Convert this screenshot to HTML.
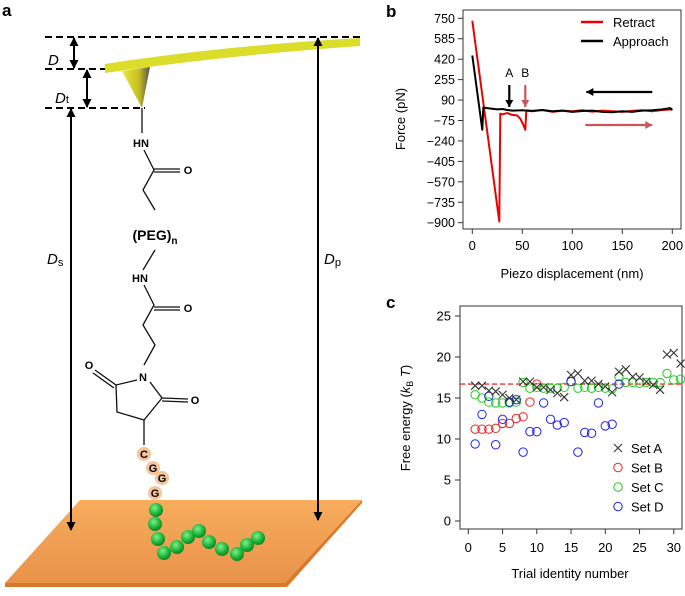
<!DOCTYPE html>
<html><head><meta charset="utf-8"><style>
body{margin:0;background:#fff;font-family:"Liberation Sans",sans-serif}
svg text{font-family:"Liberation Sans",sans-serif}
</style></head><body>
<svg id="fig" width="685" height="591" viewBox="0 0 685 591" xmlns="http://www.w3.org/2000/svg">
<defs>
<marker id="ah" markerWidth="9" markerHeight="9" refX="8" refY="4.5" orient="auto-start-reverse" markerUnits="userSpaceOnUse"><path d="M0,0 L9,4.5 L0,9 Z" fill="#000"/></marker>
<radialGradient id="ball" cx="0.4" cy="0.35" r="0.7"><stop offset="0" stop-color="#7ef08a"/><stop offset="0.6" stop-color="#1cb53a"/><stop offset="1" stop-color="#0a7a22"/></radialGradient>
<linearGradient id="plate" x1="0" y1="0" x2="0" y2="1"><stop offset="0" stop-color="#f8ad5c"/><stop offset="1" stop-color="#e8924a"/></linearGradient>
<linearGradient id="tipg" x1="0" y1="0" x2="1" y2="0"><stop offset="0" stop-color="#e8e640"/><stop offset="0.6" stop-color="#c8c020"/><stop offset="1" stop-color="#555"/></linearGradient>
</defs>

<!-- Panel a -->
<g>
<text x="2" y="16" font-size="17" font-weight="bold">a</text>
<path d="M80,500 L362,500 L285,583 L5,583 Z" fill="url(#plate)"/>
<path d="M5,583 L285,583 L362,500 L362,503 L287,587 L5,587 Z" fill="#d97a2a"/>
<g stroke="#000" stroke-width="2" stroke-dasharray="7,4">
<line x1="45" y1="37" x2="360" y2="37"/><line x1="45" y1="69" x2="105" y2="69"/><line x1="45" y1="108" x2="145" y2="108"/>
</g>
<path d="M105,64 Q220,46 360,38 L360,46 Q220,56 105,73 Z" fill="#dcdc2a"/>
<path d="M122,71 L150,67 L142,108 Z" fill="url(#tipg)"/>
<g stroke="#000" stroke-width="2" fill="none">
<line x1="74" y1="38" x2="74" y2="68" marker-start="url(#ah)" marker-end="url(#ah)"/>
<line x1="87" y1="70" x2="87" y2="107" marker-start="url(#ah)" marker-end="url(#ah)"/>
<line x1="71" y1="109" x2="71" y2="530" marker-start="url(#ah)" marker-end="url(#ah)"/>
<line x1="318" y1="38" x2="318" y2="520" marker-start="url(#ah)" marker-end="url(#ah)"/>
</g>
<text x="48" y="65" font-size="15" font-style="italic">D</text>
<text x="55" y="103" font-size="15"><tspan font-style="italic">D</tspan><tspan font-size="11">t</tspan></text>
<text x="47" y="264" font-size="15"><tspan font-style="italic">D</tspan><tspan font-size="11" dy="2">s</tspan></text>
<text x="324" y="264" font-size="15"><tspan font-style="italic">D</tspan><tspan font-size="11" dy="2">p</tspan></text>
<g stroke="#111" stroke-width="1.3" fill="none">
<path d="M142,108 L142,133"/><path d="M144,150 L154,170 L143,190 L155,210"/>
<path d="M154,169 L180,169 M154,172 L180,172"/>
<path d="M155,250 L143,270"/><path d="M144,285 L154,305 L143,325 L155,345 L144,365"/>
<path d="M154,307 L180,307 M154,310 L180,310"/>
<path d="M137,380 L116,385 L117,412 L144,420 L162,398 L150,382"/>
<path d="M116,385 L95,370 M114,388 L93,373"/>
<path d="M162,398 L188,399 M162,401 L188,402"/>
<path d="M144,420 L144,445"/>
</g>
<g font-size="11" font-weight="bold" text-anchor="middle">
<text x="141" y="147">HN</text><text x="188" y="174">O</text>
<text x="140" y="282">HN</text><text x="188" y="312">O</text>
<text x="143" y="381">N</text><text x="89" y="369">O</text><text x="195" y="404">O</text>
</g>
<text x="155" y="240" font-size="14" font-weight="bold" text-anchor="middle">(PEG)<tspan font-size="10" dy="4">n</tspan></text>
<g font-size="11" font-weight="bold" text-anchor="middle">
<circle cx="144" cy="454" r="7" fill="#f6c39a"/><circle cx="153" cy="468" r="7" fill="#f6c39a"/><circle cx="162" cy="478" r="7" fill="#f6c39a"/><circle cx="155" cy="493" r="7" fill="#f6c39a"/>
<text x="144" y="458">C</text><text x="153" y="472">G</text><text x="162" y="482">G</text><text x="155" y="497">G</text>
</g>
<g fill="url(#ball)">
<circle cx="156" cy="510" r="7"/><circle cx="155" cy="524" r="7"/><circle cx="158" cy="539" r="7"/><circle cx="164" cy="553" r="7"/><circle cx="177" cy="547" r="7"/><circle cx="188" cy="537" r="7"/><circle cx="199" cy="531" r="7"/><circle cx="209" cy="542" r="7"/><circle cx="222" cy="549" r="7"/><circle cx="237" cy="554" r="7"/><circle cx="247" cy="545" r="7"/><circle cx="258" cy="538" r="7"/>
</g>
</g>

<!-- Panel b -->
<g id="pb">
<text x="386" y="17" font-size="17" font-weight="bold">b</text>
<rect x="463" y="10" width="218" height="219" fill="none" stroke="#333" stroke-width="1"/>
<text transform="translate(405,119) rotate(-90)" font-size="13" text-anchor="middle">Force (pN)</text>
<text x="572" y="278" font-size="13" text-anchor="middle">Piezo displacement (nm)</text>
<line x1="581" y1="22" x2="603" y2="22" stroke="#e00" stroke-width="2.5"/>
<text x="613" y="27" font-size="13">Retract</text>
<line x1="581" y1="41" x2="603" y2="41" stroke="#000" stroke-width="2.5"/>
<text x="613" y="46" font-size="13">Approach</text>
</g>

<!-- Panel c -->
<g id="pc">
<text x="386" y="308" font-size="17" font-weight="bold">c</text>
<rect x="460" y="306" width="222" height="223" fill="none" stroke="#333" stroke-width="1"/>
<text transform="translate(410,418) rotate(-90)" font-size="13" text-anchor="middle">Free energy (<tspan font-style="italic">k</tspan><tspan font-size="9" dy="3">B</tspan><tspan dy="-3" font-style="italic"> T</tspan>)</text>
<text x="570" y="578" font-size="13" text-anchor="middle">Trial identity number</text>
</g>
</svg>
<script>
// Panel b data
const bXTicks=[0,50,100,150,200];
const bYTicks=[750,585,420,255,90,-75,-240,-405,-570,-735,-900];
const retractX=[0,27,28,30,35,40,45,48,51,53,54,60,70,80,90,100,110,120,130,140,150,160,170,180,190,200];
const retractY=[730,-890,-20,-25,-15,-30,-35,-60,-110,-150,5,0,10,-5,5,0,8,-3,5,0,-5,3,8,0,10,15];
const approachX=[0,10,11,15,20,25,30,35,40,50,60,70,80,90,100,110,120,130,140,150,160,170,180,190,198,200];
const approachY=[450,-150,30,25,20,15,18,10,5,8,3,10,0,5,-5,2,5,-5,-8,0,-5,5,8,15,25,10];
// Panel c data
const cXTicks=[0,5,10,15,20,25,30];
const cYTicks=[0,5,10,15,20,25];
const setA=[16.5,16.5,15.9,15.8,15.4,15,14.8,17,17,16.3,16.3,16,15.6,15.1,17.8,18,17.1,17.1,16.7,16.4,15.7,18.2,18.5,17.6,17.5,17,16.6,16,20.3,20.5,19.2];
const setB=[11.2,11.2,11.2,11.3,11.9,11.9,12.5,12.7,14.5,16.7];
const setC=[15.4,15,14.5,14.4,14.4,14.4,14.5,16.9,16.2,16.3,16.2,16.2,16.2,16.3,17,16.2,16.3,16.2,16.3,16.2,16.1,17.6,16.9,16.9,16.8,16.9,16.9,16.9,18,17.2,17.3];
const setD=[9.4,13,15.2,9.3,12.4,14.5,14.8,8.4,10.9,10.9,14.4,12.4,11.7,12,17,8.4,10.8,10.7,14.4,11.6,11.8,16.7];
const meanLine=16.7;

const NS="http://www.w3.org/2000/svg";
function mk(parent,tag,attrs){const e=document.createElementNS(NS,tag);for(const k in attrs)e.setAttribute(k,attrs[k]);parent.appendChild(e);return e;}
const pb=document.getElementById('pb'), pc=document.getElementById('pc');
const bx=v=>472.3+v*1.0, by=v=>18.3+(750-v)/165*20.44;
const cx=v=>468.3+v*6.85, cy=v=>521-v*8.2;

bXTicks.forEach(t=>{const l=mk(pb,'line',{x1:bx(t),x2:bx(t),y1:229,y2:234,stroke:'#333'});


const tx=mk(pb,'text',{x:bx(t),y:250,'font-size':13,'text-anchor':'middle'});tx.textContent=t;

});
bYTicks.forEach(t=>{const l=mk(pb,'line',{x1:458,x2:463,y1:by(t),y2:by(t),stroke:'#333'});


const tx=mk(pb,'text',{x:455,y:by(t)+4.5,'font-size':12.5,'text-anchor':'end'});tx.textContent=(t<0?'\u2212'+(-t):t);

});
function poly(p,xs,ys,fx,fy,col,name){const pl=mk(p,'polyline',{points:xs.map((x,i)=>fx(x)+','+fy(ys[i])).join(' '),fill:'none',stroke:col,'stroke-width':2,'stroke-linejoin':'round'});

}
poly(pb,retractX,retractY,bx,by,'#e00','retract-curve');
poly(pb,approachX,approachY,bx,by,'#000','approach-curve');
const aA=mk(pb,'text',{x:bx(37),y:77,'font-size':12,'text-anchor':'middle'});aA.textContent='A';


const aB=mk(pb,'text',{x:bx(53),y:77,'font-size':12,'text-anchor':'middle'});aB.textContent='B';


function arrow(x1,y1,x2,y2,col,name){const g=mk(pb,'g',{});


mk(g,'line',{x1:x1,y1:y1,x2:x2,y2:y2,stroke:col,'stroke-width':2.2});
const dx=x2-x1,dy=y2-y1,L=Math.hypot(dx,dy),ux=dx/L,uy=dy/L;
mk(g,'path',{d:`M${x2},${y2} L${x2-7*ux+4*uy},${y2-7*uy-4*ux} L${x2-7*ux-4*uy},${y2-7*uy+4*ux} Z`,fill:col});}
arrow(bx(37),85,bx(37),107,'#000','arrow-a');
arrow(bx(53),85,bx(53),107,'#c55','arrow-b');
arrow(bx(180),92,bx(114),92,'#000','approach-direction-arrow');
arrow(bx(113),125,bx(180),125,'#c55','retract-direction-arrow');

cXTicks.forEach(t=>{const l=mk(pc,'line',{x1:cx(t),x2:cx(t),y1:529,y2:534,stroke:'#333'});


const tx=mk(pc,'text',{x:cx(t),y:552,'font-size':13,'text-anchor':'middle'});tx.textContent=t;

});
cYTicks.forEach(t=>{const l=mk(pc,'line',{x1:455,x2:460,y1:cy(t),y2:cy(t),stroke:'#333'});


const tx=mk(pc,'text',{x:451,y:cy(t)+4.5,'font-size':13,'text-anchor':'end'});tx.textContent=t;

});
const ml=mk(pc,'line',{x1:460,x2:682,y1:cy(meanLine),y2:cy(meanLine),stroke:'#e33','stroke-width':1.3,'stroke-dasharray':'5,3'});


function circles(arr,col,name){arr.forEach((v,i)=>{const x=cx(i+1);if(x>682)return;const c=mk(pc,'circle',{cx:x,cy:cy(v),r:4.2,fill:'none',stroke:col,'stroke-width':1});

});}
circles(setB,'#e22','point-set-b');
circles(setC,'#2c2','point-set-c');
circles(setD,'#22e','point-set-d');
setA.forEach((v,i)=>{const x=cx(i+1),y=cy(v);const p=mk(pc,'path',{d:`M${x-4},${y-4}L${x+4},${y+4}M${x-4},${y+4}L${x+4},${y-4}`,stroke:'#333','stroke-width':1.1});

});
const leg=[['Set A','#333','x'],['Set B','#e22','o'],['Set C','#2c2','o'],['Set D','#22e','o']];
leg.forEach((d,i)=>{const y=448+i*19.5;const g=mk(pc,'g',{});


if(d[2]=='x')mk(g,'path',{d:`M${618-4},${y-4}L${618+4},${y+4}M${618-4},${y+4}L${618+4},${y-4}`,stroke:d[1],'stroke-width':1.1});
else mk(g,'circle',{cx:618,cy:y,r:4.2,fill:'none',stroke:d[1]});
const t=mk(g,'text',{x:631,y:y+5,'font-size':13});t.textContent=d[0];});
</script>
</body></html>
